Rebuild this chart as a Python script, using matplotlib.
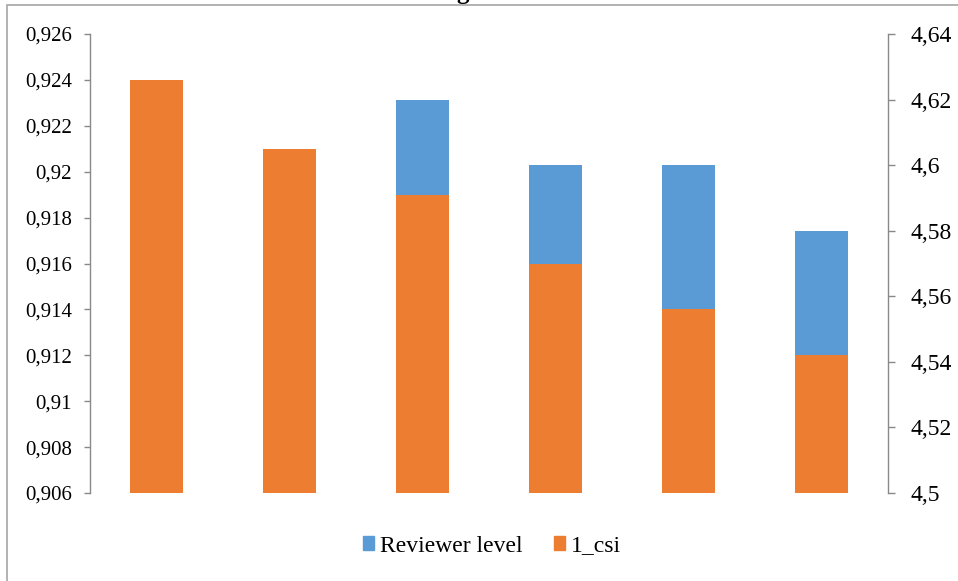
import matplotlib
matplotlib.use("Agg")
import matplotlib.pyplot as plt
from matplotlib.patches import Rectangle
from matplotlib.ticker import FixedLocator, FixedFormatter

plt.rcParams["font.family"] = ["Liberation Serif", "DejaVu Serif"]

# Data
groups = ["1", "2", "3", "4", "5", "6"]
reviewer_level = [4.55, 4.58, 4.62, 4.60, 4.60, 4.58]
csi_1 = [0.924, 0.921, 0.919, 0.916, 0.914, 0.912]

left_ticks = [0.906, 0.908, 0.910, 0.912, 0.914, 0.916, 0.918, 0.920, 0.922, 0.924, 0.926]
left_labels = ["0,906", "0,908", "0,91", "0,912", "0,914", "0,916", "0,918", "0,92", "0,922", "0,924", "0,926"]
right_ticks = [4.50, 4.52, 4.54, 4.56, 4.58, 4.60, 4.62, 4.64]
right_labels = ["4,5", "4,52", "4,54", "4,56", "4,58", "4,6", "4,62", "4,64"]

BLUE = "#5B9BD5"
ORANGE = "#ED7D31"
GRAY = "#898989"

W, H = 958, 581
fig = plt.figure(figsize=(W / 100, H / 100), dpi=100)
ax = fig.add_axes([90 / W, 1 - 493 / H, (888 - 90) / W, (493 - 34) / H])
ax2 = ax.twinx()

x = list(range(len(groups)))
bw = 0.40

# Reviewer level on the right scale, behind
ax2.bar(x, reviewer_level, width=bw, color=BLUE, zorder=1)
# 1_csi on the left scale, in front
ax.bar(x, csi_1, width=bw, color=ORANGE, zorder=1)
ax.set_zorder(ax2.get_zorder() + 1)
ax.patch.set_visible(False)

ax.set_xlim(-0.5, len(groups) - 0.5)
ax.set_ylim(0.906, 0.926)
ax2.set_ylim(4.50, 4.64)

ax.yaxis.set_major_locator(FixedLocator(left_ticks))
ax.yaxis.set_major_formatter(FixedFormatter(left_labels))
ax2.yaxis.set_major_locator(FixedLocator(right_ticks))
ax2.yaxis.set_major_formatter(FixedFormatter(right_labels))
ax.set_xticks([])
ax2.set_xticks([])

for a in (ax, ax2):
    for s in ("top", "bottom"):
        a.spines[s].set_visible(False)
ax.spines["right"].set_visible(False)
ax2.spines["left"].set_visible(False)
ax.spines["left"].set_color(GRAY)
ax2.spines["right"].set_color(GRAY)
ax.spines["left"].set_linewidth(1.0)
ax2.spines["right"].set_linewidth(1.0)

ax.tick_params(axis="y", direction="out", length=4, width=1.0, color=GRAY,
               labelsize=15, pad=9, labelcolor="black")
ax2.tick_params(axis="y", direction="out", length=5, width=1.0, color=GRAY,
                labelsize=17, pad=11, labelcolor="black")

# Legend
handles = [Rectangle((0, 0), 1, 1, color=BLUE), Rectangle((0, 0), 1, 1, color=ORANGE)]
fig.legend(handles, ["Reviewer level", "1_csi"], loc="center",
           bbox_to_anchor=(492 / W, 1 - 546 / H), ncol=2, frameon=False,
           fontsize=17, handlelength=0.5, handleheight=0.5,
           handletextpad=0.25, columnspacing=1.3)

# Chart frame
fig.patches.append(Rectangle((7 / W, -0.1), 1.2, 1.1 - 5 / H, transform=fig.transFigure,
                             fill=False, edgecolor="#A6A6A6", linewidth=1.2, clip_on=False))

# Title (mostly above the frame)
fig.text(463 / W, 1 + 1.5 / H, "g", ha="center", va="baseline",
         fontsize=18, fontweight="bold")

fig.savefig("out.png", dpi=100, facecolor="white")
